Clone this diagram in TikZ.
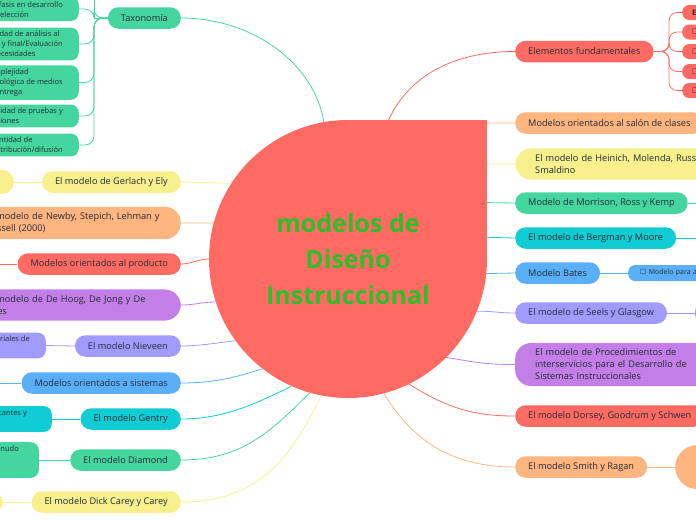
\documentclass[tikz,border=0pt]{standalone}
\usepackage{fontspec}
\setmainfont{Open Sans}
\newfontfamily\simbolo{DejaVu Sans}
\usetikzlibrary{backgrounds}

\definecolor{rojo}{HTML}{FF6B63}
\definecolor{verde}{HTML}{45D6A0}
\definecolor{amarillo}{HTML}{F7F08C}
\definecolor{naranja}{HTML}{FFB57F}
\definecolor{morado}{HTML}{C47EE8}
\definecolor{lila}{HTML}{A29BFE}
\definecolor{azul}{HTML}{5AAFF8}
\definecolor{cian}{HTML}{10CDD4}
\definecolor{tinta}{HTML}{222B36}
\definecolor{verdeT}{HTML}{2DBE2A}

\begin{document}
\begin{tikzpicture}[x=1pt, y=-1pt,
        tema/.style={rounded corners=10.5pt, minimum height=21.5pt, inner xsep=13pt, inner ysep=2pt,
          text=tinta, font=\fontsize{9.2}{12}\selectfont},
        tema2/.style={tema, rounded corners=16pt, align=left, text width=175pt, inner xsep=20pt, inner ysep=6pt},
        hoja/.style={rounded corners=8pt, align=left, inner xsep=16pt, inner ysep=3.5pt,
          text=tinta, font=\fontsize{7.5}{10}\selectfont},
        caja/.style={rounded corners=7pt, minimum height=15pt, inner xsep=10pt, inner ysep=1pt,
          text width=20pt, align=left, text=tinta, font=\fontsize{7.5}{9}\selectfont},
        lazo/.style={line width=.8pt}]

      \useasboundingbox (0,0) rectangle (696,520);
      \clip (0,0) rectangle (696,520);

      % centro
      \node[circle, fill=rojo, minimum size=278pt, inner sep=0pt, align=center, text=verdeT,
        font=\fontsize{25}{36}\selectfont\bfseries] (centro) at (348,259)
        {modelos de\\Diseño\\Instruccional};

      % izquierda: taxonomia y sus hojas
      \node[tema, fill=verde, anchor=east] (tax) at (181,18) {Taxonomía};
      \node[hoja, fill=verde, anchor=east] (tx1) at (79,9) {Énfasis en desarrollo\\o selección};
      \node[hoja, fill=verde, anchor=east] (tx2) at (79,44) {Cantidad de análisis al\\inicio y final/Evaluación\\de necesidades};
      \node[hoja, fill=verde, anchor=east] (tx3) at (79,82.5) {Complejidad\\tecnológica de medios\\de entrega};
      \node[hoja, fill=verde, anchor=east] (tx4) at (79,116) {Cantidad de pruebas y\\revisiones};
      \node[hoja, fill=verde, anchor=east] (tx5) at (79,145) {Cantidad de\\distribución/difusión};
      \coordinate (txtronco) at (94,18);
      \coordinate (txup) at (94,-25);

      % izquierda: modelos
      \node[tema, fill=amarillo, anchor=east] (gerlach) at (181,182) {El modelo de Gerlach y Ely};
      \node[fill=amarillo, rounded corners=12pt, minimum height=24pt, minimum width=50pt, anchor=east] (gerlachA) at (14,182) {};
      \node[tema2, fill=naranja, anchor=east] (newby) at (181,223) {El modelo de Newby, Stepich, Lehman y\\Russell (2000)};
      \node[tema, fill=rojo, anchor=east] (prod) at (181,264) {Modelos orientados al producto};
      \coordinate (prodA) at (-20,264);
      \node[tema2, fill=morado, anchor=east] (hoog) at (181,305) {El modelo de De Hoog, De Jong y De\\Vries};
      \node[tema, fill=lila, anchor=east] (nieveen) at (181,346) {El modelo Nieveen};
      \node[hoja, fill=lila, anchor=east] (nieveenA) at (46,345.5) {Materiales de\\\strut};
      \node[tema, fill=azul, anchor=east] (sist) at (181,383) {Modelos orientados a sistemas};
      \coordinate (sistA) at (-20,383);
      \node[tema, fill=cian, anchor=east] (gentry) at (181,419) {El modelo Gentry};
      \node[hoja, fill=cian, anchor=east, inner xsep=25pt] (gentryA) at (52,419) {significantes y\\\strut};
      \node[tema, fill=verde, anchor=east] (diamond) at (181,460) {El modelo Diamond};
      \node[hoja, fill=verde, anchor=east, inner xsep=20pt] (diamondA) at (39,460) {a menudo\\\strut\\\strut};
      \node[tema, fill=amarillo, anchor=east] (dick) at (181,502) {El modelo Dick Carey y Carey};
      \node[fill=amarillo, rounded corners=10.5pt, minimum height=21.5pt, minimum width=40pt, anchor=east] (dickA) at (3,502) {};

      % derecha: elementos fundamentales y sus hojas
      \node[tema, fill=rojo, anchor=west] (elem) at (515,51.5) {Elementos fundamentales};
      \node[caja, fill=rojo, anchor=west] (e1) at (682,12.5) {\textbf{E}};
      \foreach \i/\yy in {2/32,3/51.5,4/71.5,5/90.5}
        \node[caja, fill=rojo, anchor=west] (e\i) at (682,\yy) {{\simbolo ☐}};
      \coordinate (etronco) at (669,51.5);

      % derecha: modelos
      \node[tema, fill=naranja, anchor=west] (salon) at (515,123) {Modelos orientados al salón de clases};
      \node[tema2, fill=amarillo, anchor=west, text width=200pt] (heinich) at (515,164) {El modelo de Heinich, Molenda, Russell y\\Smaldino};
      \node[tema, fill=verde, anchor=west] (morrison) at (515,203) {Modelo de Morrison, Ross y Kemp};
      \coordinate (morrisonA) at (720,203);
      \node[tema, fill=cian, anchor=west] (bergman) at (515,238) {El modelo de Bergman y Moore};
      \coordinate (bergmanA) at (720,238);
      \node[tema, fill=azul, anchor=west] (bates) at (515,273) {Modelo Bates};
      \node[caja, fill=azul, anchor=west, minimum height=16pt, inner xsep=12pt, text width=70pt,
        font=\fontsize{7}{9}\selectfont] (batesA) at (628,273) {{\simbolo ☐} Modelo para a};
      \node[tema, fill=lila, anchor=west] (seels) at (515,313) {El modelo de Seels y Glasgow};
      \node[fill=lila, rounded corners=8pt, minimum height=20pt, minimum width=40pt, anchor=west] (seelsA) at (695,313) {};
      \node[tema2, fill=morado, anchor=west, text width=200pt] (proc) at (515,364.5)
        {El modelo de Procedimientos de\\interservicios para el Desarrollo de\\Sistemas Instruccionales};
      \node[tema, fill=rojo, anchor=west] (dorsey) at (515,416) {El modelo Dorsey, Goodrum y Schwen};
      \node[tema, fill=naranja, anchor=west] (smith) at (515,467) {El modelo Smith y Ragan};
      \node[fill=naranja, rounded corners=22pt, minimum height=44pt, minimum width=60pt, anchor=west] (smithA) at (675,467) {};

      % conectores (debajo de los nodos)
      \begin{pgfonlayer}{background}
        \draw[lazo, verde] (centro.100) .. controls +(-10,-60) and +(70,0) .. (tax.east);
        \foreach \i in {1,...,5}
          \draw[lazo, verde, rounded corners=9pt] (tax.west) -- (txtronco) |- (tx\i.east);
        \draw[lazo, verde] (tax.west) -- (txtronco) -- (txup);
        \draw[lazo, amarillo] (centro.147) .. controls +(-20,0) and +(20,0) .. (gerlach.east);
        \draw[lazo, amarillo] (gerlach.west) -- (gerlachA.east);
        \draw[lazo, naranja] (centro.165) -- (newby.east);
        \draw[lazo, rojo] (centro.180) .. controls +(-10,0) and +(10,0) .. (prod.east);
        \draw[lazo, rojo] (prod.west) -- (prodA);
        \draw[lazo, morado] (centro.198) .. controls +(-15,0) and +(15,0) .. (hoog.east);
        \draw[lazo, lila] (centro.216) .. controls +(-20,2) and +(20,0) .. (nieveen.east);
        \draw[lazo, lila] (nieveen.west) -- (nieveenA.east);
        \draw[lazo, azul] (centro.232) .. controls +(-30,10) and +(30,0) .. (sist.east);
        \draw[lazo, azul] (sist.west) -- (sistA);
        \draw[lazo, cian] (centro.246) .. controls +(-40,20) and +(40,0) .. (gentry.east);
        \draw[lazo, cian] (gentry.west) -- (gentryA.east);
        \draw[lazo, verde] (centro.254) .. controls +(-40,40) and +(60,0) .. (diamond.east);
        \draw[lazo, verde] (diamond.west) -- (diamondA.east);
        \draw[lazo, amarillo] (centro.259) .. controls +(-30,60) and +(80,0) .. (dick.east);
        \draw[lazo, amarillo] (dick.west) -- (dickA.east);

        \draw[lazo, rojo] (centro.74) .. controls +(20,-50) and +(-60,0) .. (elem.west);
        \foreach \i in {1,...,5}
          \draw[lazo, rojo, rounded corners=8pt] (elem.east) -- (etronco) |- (e\i.west);
        \draw[lazo, naranja] (centro.78) -- (salon.west);
        \draw[lazo, amarillo] (centro.43) -- (heinich.west);
        \draw[lazo, verde] (centro.24) -- (morrison.west);
        \draw[lazo, verde] (morrison.east) -- (morrisonA);
        \draw[lazo, cian] (centro.9) -- (bergman.west);
        \draw[lazo, cian] (bergman.east) -- (bergmanA);
        \draw[lazo, azul] (centro.354) -- (bates.west);
        \draw[lazo, azul] (bates.east) -- (batesA.west);
        \draw[lazo, lila] (centro.338) .. controls +(15,0) and +(-15,0) .. (seels.west);
        \draw[lazo, lila] (seels.east) -- (seelsA.west);
        \draw[lazo, morado] (centro.315) .. controls +(30,5) and +(-30,0) .. (proc.west);
        \draw[lazo, rojo] (centro.296) .. controls +(40,25) and +(-40,0) .. (dorsey.west);
        \draw[lazo, naranja] (centro.285) .. controls +(30,50) and +(-60,0) .. (smith.west);
        \draw[lazo, naranja] (smith.east) -- (smithA.west);

        % esquina recta del centro
        \fill[rojo] (centro.north) rectangle (centro.east);
      \end{pgfonlayer}
    \end{tikzpicture}
\end{document}
